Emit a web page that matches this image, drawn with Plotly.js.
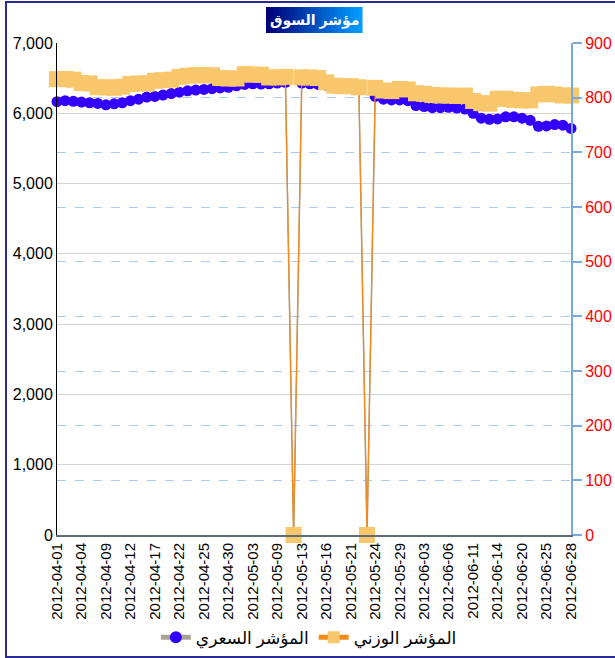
<!DOCTYPE html>
<html><head><meta charset="utf-8">
<script src="https://cdn.plot.ly/plotly-3.0.1.min.js"></script>
<style>
html,body{margin:0;padding:0;width:615px;height:658px;overflow:hidden;background:#fff;}
#chart{position:absolute;left:0;top:0;width:615px;height:658px;}
#frame{position:absolute;left:5px;top:1px;width:620px;height:653px;border:2px solid #2b2b96;pointer-events:none;}
</style></head><body>
<div id="chart"></div><div id="frame"></div>
<script>
const dates = [
 '2012-04-01','2012-04-02','2012-04-03','2012-04-04','2012-04-05','2012-04-08','2012-04-09','2012-04-10',
 '2012-04-11','2012-04-12','2012-04-15','2012-04-16','2012-04-17','2012-04-18','2012-04-19','2012-04-22',
 '2012-04-23','2012-04-24','2012-04-25','2012-04-26','2012-04-29','2012-04-30','2012-05-01','2012-05-02',
 '2012-05-03','2012-05-06','2012-05-07','2012-05-09','2012-05-10','2012-05-12','2012-05-13','2012-05-14',
 '2012-05-15','2012-05-16','2012-05-17','2012-05-20','2012-05-21','2012-05-22','2012-05-23','2012-05-24',
 '2012-05-27','2012-05-28','2012-05-29','2012-05-30','2012-05-31','2012-06-03','2012-06-04','2012-06-05',
 '2012-06-06','2012-06-07','2012-06-10','2012-06-11','2012-06-12','2012-06-13','2012-06-14','2012-06-17',
 '2012-06-18','2012-06-20','2012-06-21','2012-06-24','2012-06-25','2012-06-26','2012-06-27','2012-06-28'
];
const priceIndex = [
 6165,6180,6170,6160,6150,6140,6120,6135,6150,6180,6200,6230,6240,6260,6280,6300,
 6320,6330,6340,6350,6360,6370,6390,6410,6420,6415,6420,6430,6440,0,6430,6420,
 6410,6400,6390,6380,6360,6340,0,6240,6200,6190,6190,6180,6110,6095,6080,6080,
 6085,6075,6060,6000,5930,5915,5920,5950,5950,5930,5900,5815,5820,5840,5830,5785
];
const weightedIndex = [
 834,834,833,827,826,819,819,818,820,825,826,826,831,832,833,838,
 840,841,841,841,836,835,835,843,842,842,837,837,838,0,837,837,
 836,828,822,821,821,819,0,818,813,812,816,815,808,807,805,804,
 804,803,804,794,790,789,798,798,796,795,795,806,807,806,804,804
];
const seriesNames = ['المؤشر السعري', 'المؤشر الوزني'];
const titleText = 'مؤشر السوق';
const tickDates = dates.filter((d, i) => i % 3 === 0);

const FONT = "Arial, 'Liberation Sans', 'DejaVu Sans', sans-serif";

const traces = [
  {
    x: dates, y: priceIndex, name: seriesNames[0], type: 'scatter', mode: 'lines+markers',
    line: {color: '#a8a294', width: 1.5},
    marker: {symbol: 'circle', size: 11, color: '#3300ff'},
    cliponaxis: false, yaxis: 'y'
  },
  {
    x: dates, y: weightedIndex, name: seriesNames[1], type: 'scatter', mode: 'lines+markers',
    line: {color: '#f28a1c', width: 1.2},
    marker: {symbol: 'square', size: 16, color: '#f8c76b'},
    cliponaxis: false, yaxis: 'y2'
  }
];

// gradient title box
const shapes = [];
const gx0 = 0.4066, gx1 = 0.5934, gy0 = 1.0203, gy1 = 1.0732, N = 24;
for (let i = 0; i < N; i++) {
  const t = i / (N - 1);
  const g = Math.round(0 + 155 * t), b = Math.round(120 + 135 * t);
  shapes.push({type: 'rect', xref: 'paper', yref: 'paper',
    x0: gx0 + (gx1 - gx0) * i / N, x1: gx0 + (gx1 - gx0) * (i + 1) / N + 0.001,
    y0: gy0, y1: gy1, fillcolor: `rgb(0,${g},${b})`, line: {width: 0}});
}

const layout = {
  width: 615, height: 658,
  margin: {l: 57, r: 44, t: 43, b: 123, pad: 0, autoexpand: false},
  paper_bgcolor: '#fff', plot_bgcolor: '#fff',
  font: {family: FONT, color: '#000', size: 14},
  showlegend: true,
  legend: {orientation: 'h', x: 0.49, xanchor: 'center', y: -0.172, yanchor: 'top',
    font: {size: 17, color: '#000'}, itemsizing: 'constant', itemwidth: 30,
    bgcolor: 'rgba(0,0,0,0)'},
  xaxis: {
    type: 'category', range: [0, dates.length - 1],
    tickmode: 'array', tickvals: tickDates, ticktext: tickDates,
    tickangle: -90, tickfont: {size: 15, color: '#000'},
    showgrid: false, zeroline: false,
    showline: true, linecolor: '#5f6b78', linewidth: 2,
    ticks: '', automargin: false
  },
  yaxis: {
    range: [0, 7000], dtick: 1000, tickformat: ',',
    tickfont: {size: 16, color: '#000'},
    showgrid: true, gridcolor: '#d3d3d3', gridwidth: 1,
    zeroline: false, showline: true, linecolor: '#000', linewidth: 1,
    ticks: '', automargin: false
  },
  yaxis2: {
    overlaying: 'y', side: 'right', range: [0, 900], dtick: 100,
    tickfont: {size: 16, color: '#ff0000'},
    showgrid: true, gridcolor: '#a9cdf2', griddash: 'dash', gridwidth: 1,
    zeroline: false, showline: true, linecolor: '#79a9dc', linewidth: 2,
    ticks: 'outside', ticklen: 9, tickwidth: 2, tickcolor: '#79a9dc',
    automargin: false
  },
  shapes: shapes,
  annotations: [{
    xref: 'paper', yref: 'paper', x: 0.5, y: 1.0467, xanchor: 'center', yanchor: 'middle',
    text: '<b>' + titleText + '</b>', showarrow: false,
    font: {size: 14, color: '#ffffff', family: FONT}
  }]
};

Plotly.newPlot('chart', traces, layout, {displayModeBar: false, staticPlot: true});
</script>
</body></html>
